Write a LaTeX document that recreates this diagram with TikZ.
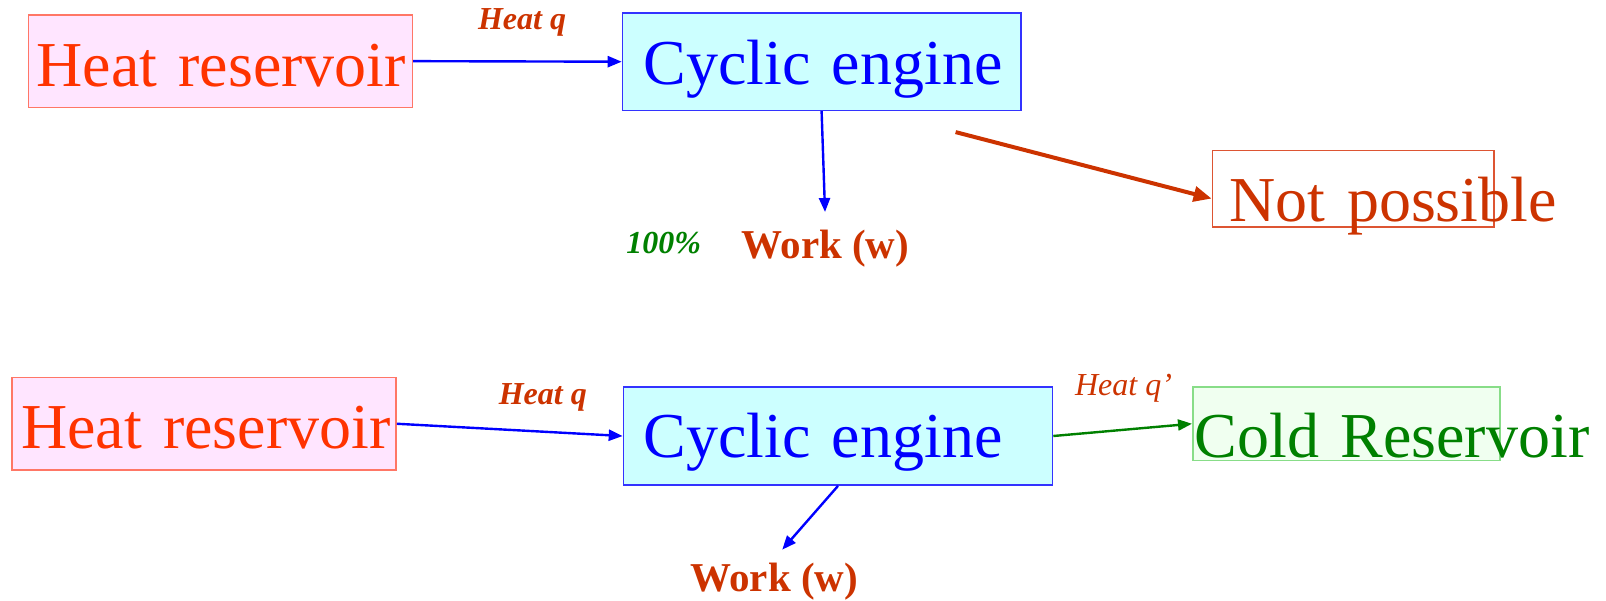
\documentclass[tikz,border=0pt]{standalone}
\usepackage{fontspec}
\setmainfont{Liberation Serif}
\usepackage{tikz}
\usetikzlibrary{arrows.meta}
\definecolor{hotfill}{HTML}{FFE5FF}
\definecolor{hotline}{HTML}{FF7766}
\definecolor{hottext}{HTML}{FF3300}
\definecolor{engfill}{HTML}{CCFFFF}
\definecolor{engline}{HTML}{3333FF}
\definecolor{engtext}{HTML}{0000FF}
\definecolor{nopeline}{HTML}{DD5533}
\definecolor{labeltext}{HTML}{CC3300}
\definecolor{coldfill}{HTML}{F0FFF0}
\definecolor{coldline}{HTML}{88DD88}
\definecolor{coldtext}{HTML}{008000}

\begin{document}
\begin{tikzpicture}[x=0.5pt, y=-0.5pt, >={Triangle[length=7pt,width=5.5pt]},
		reservoir/.style={rectangle, anchor=north west, line width=0.75pt, inner ysep=0pt, text height=35.5pt, align=left, font=\fontsize{32pt}{38pt}\selectfont},
		hot/.style={reservoir, draw=hotline, fill=hotfill, text=hottext},
		engine/.style={reservoir, draw=engline, fill=engfill, text=engtext},
		nope/.style={reservoir, draw=nopeline, text=labeltext},
		cold/.style={reservoir, draw=coldline, fill=coldfill, text=coldtext},
		work/.style={text=labeltext, inner sep=2pt, font=\fontsize{20.5pt}{24pt}\selectfont\bfseries},
		flowlabel/.style={text=labeltext, inner sep=1pt, font=\fontsize{16pt}{19pt}\selectfont\bfseries\itshape},
		blueflow/.style={draw=engtext, line width=1.2pt},
		greenflow/.style={draw=coldtext, line width=1.2pt},
		redflow/.style={draw=labeltext, line width=2pt, >={Triangle[length=9pt,width=7.5pt]}}]
		\useasboundingbox (0,0) rectangle (1606,600);

		% first engine: all heat into work
		\node[hot, inner xsep=4pt, text width=184pt, text depth=10.6pt] (hr1) at (27.7,14.3) {\mbox{Heat reservoir}};
		\node[engine, inner xsep=10.5pt, text width=178.15pt, text depth=13.15pt] (ce1) at (621.7,12.3) {\mbox{Cyclic engine}};
		\node[nope, inner xsep=8.7pt, text width=123.45pt, text depth=2.9pt] (np) at (1211.6,149.5) {\mbox{Not possible}};
		\node[work] (w1) at (825.5,249) {Work (w)};
		\node[flowlabel] (q1) at (522,22.5) {Heat q};
		\node[flowlabel, text=coldtext] (pc) at (663.7,242.7) {100\%};
		\coordinate (npfrom) at (955.6,132.1);

		% second engine: heat rejected to cold reservoir
		\node[hot, inner xsep=4.5pt, text width=183pt, text depth=10.6pt] (hr2) at (11.3,376.9) {\mbox{Heat reservoir}};
		\node[engine, inner xsep=10pt, text width=194.55pt, text depth=13.65pt] (ce2) at (622.7,386.1) {\mbox{Cyclic engine}};
		\node[cold, inner xsep=1pt, text width=151.7pt, text depth=1.4pt] (cr) at (1192,386.1) {\mbox{Cold Reservoir}};
		\node[work] (w2) at (774.3,581.7) {Work (w)};
		\node[flowlabel] (q2) at (542.8,397.4) {Heat q};
		\node[flowlabel, font=\fontsize{16pt}{19pt}\selectfont\itshape] (q3) at (1123.5,388.2) {Heat q’};

		\path (hr1.east) edge[->, blueflow] (ce1.west);
		\path (ce1.south) edge[->, blueflow, shorten >=7pt] (w1.north);
		\path (npfrom) edge[->, redflow] (np.184);
		\path (hr2.east) edge[->, blueflow] (ce2.west);
		\path (ce2.east) edge[->, greenflow] (cr.west);
		\path (ce2.south) edge[->, blueflow, shorten >=6pt] (w2.north);

	\end{tikzpicture}
\end{document}
